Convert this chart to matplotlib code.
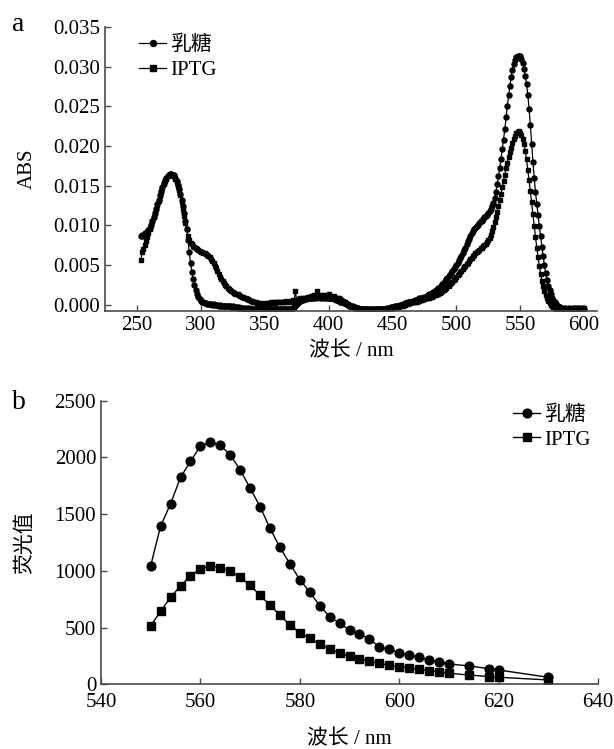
import matplotlib
matplotlib.use('Agg')
import matplotlib.pyplot as plt
from matplotlib.ticker import FormatStrFormatter

plt.rcParams['font.family'] = ['Liberation Serif', 'Noto Sans CJK SC']
plt.rcParams['axes.unicode_minus'] = False

# Panel a: absorbance spectra, 1 nm steps from 253 to 600 nm
abs_wl = list(range(253, 601))
abs_lactose = [
    0.0087, 0.0088, 0.0086, 0.0090, 0.0089, 0.0092, 0.0094, 0.0097, 0.0101, 0.0106,
    0.0111, 0.0116, 0.0121, 0.0127, 0.0132, 0.0138, 0.0143, 0.0148, 0.0153, 0.0157,
    0.0160, 0.0162, 0.0164, 0.0165, 0.0165, 0.0164, 0.0163, 0.0160, 0.0156, 0.0151,
    0.0146, 0.0140, 0.0132, 0.0124, 0.0115, 0.0106, 0.0096, 0.0082, 0.0066, 0.0052,
    0.0041, 0.0032, 0.0025, 0.0019, 0.0014, 0.0010, 0.0007, 0.0005, 0.0004, 0.0003,
    0.0002, 0.0002, 0.0001, 0.0001, 0.0001, 0.0001, 0.0000, 0.0001, 0.0000, 0.0000,
    0.0000, -0.0001, 0.0000, -0.0001, -0.0001, -0.0001, -0.0002, -0.0001, -0.0002, -0.0002,
    -0.0002, -0.0003, -0.0002, -0.0003, -0.0003, -0.0003, -0.0004, -0.0003, -0.0004, -0.0004,
    -0.0004, -0.0005, -0.0004, -0.0005, -0.0005, -0.0004, -0.0005, -0.0006, -0.0005, -0.0005,
    -0.0006, -0.0005, -0.0006, -0.0006, -0.0005, -0.0006, -0.0006, -0.0006, -0.0005, -0.0006,
    -0.0006, -0.0005, -0.0006, -0.0005, -0.0006, -0.0006, -0.0005, -0.0006, -0.0005, -0.0006,
    -0.0005, -0.0006, -0.0005, -0.0006, -0.0006, -0.0005, -0.0006, -0.0005, -0.0006, -0.0004,
    -0.0003, -0.0001, 0.0001, 0.0003, 0.0004, 0.0005, 0.0006, 0.0006, 0.0007, 0.0007,
    0.0008, 0.0008, 0.0009, 0.0008, 0.0009, 0.0009, 0.0010, 0.0009, 0.0010, 0.0010,
    0.0009, 0.0010, 0.0010, 0.0009, 0.0010, 0.0009, 0.0009, 0.0008, 0.0009, 0.0008,
    0.0008, 0.0007, 0.0007, 0.0006, 0.0006, 0.0005, 0.0004, 0.0004, 0.0003, 0.0002,
    0.0002, 0.0001, 0.0000, -0.0001, -0.0001, -0.0002, -0.0003, -0.0003, -0.0004, -0.0004,
    -0.0004, -0.0005, -0.0005, -0.0005, -0.0006, -0.0006, -0.0006, -0.0006, -0.0007, -0.0006,
    -0.0006, -0.0007, -0.0006, -0.0006, -0.0007, -0.0006, -0.0006, -0.0006, -0.0005, -0.0006,
    -0.0005, -0.0005, -0.0005, -0.0004, -0.0004, -0.0004, -0.0003, -0.0003, -0.0003, -0.0002,
    -0.0002, -0.0001, -0.0001, 0.0000, 0.0000, 0.0001, 0.0001, 0.0002, 0.0002, 0.0003,
    0.0003, 0.0004, 0.0004, 0.0005, 0.0005, 0.0006, 0.0006, 0.0007, 0.0008, 0.0008,
    0.0009, 0.0009, 0.0010, 0.0010, 0.0011, 0.0012, 0.0013, 0.0014, 0.0015, 0.0016,
    0.0017, 0.0018, 0.0019, 0.0021, 0.0022, 0.0024, 0.0026, 0.0028, 0.0030, 0.0032,
    0.0034, 0.0036, 0.0038, 0.0040, 0.0043, 0.0045, 0.0048, 0.0050, 0.0053, 0.0056,
    0.0059, 0.0062, 0.0065, 0.0069, 0.0072, 0.0076, 0.0080, 0.0083, 0.0086, 0.0090,
    0.0093, 0.0095, 0.0097, 0.0099, 0.0101, 0.0103, 0.0105, 0.0106, 0.0108, 0.0110,
    0.0112, 0.0113, 0.0116, 0.0118, 0.0121, 0.0124, 0.0128, 0.0134, 0.0142, 0.0152,
    0.0162, 0.0172, 0.0184, 0.0196, 0.0208, 0.0221, 0.0236, 0.0251, 0.0264, 0.0276,
    0.0287, 0.0296, 0.0303, 0.0308, 0.0312, 0.0314, 0.0314, 0.0313, 0.0310, 0.0305,
    0.0297, 0.0288, 0.0278, 0.0264, 0.0247, 0.0226, 0.0202, 0.0180, 0.0160, 0.0142,
    0.0127, 0.0113, 0.0099, 0.0086, 0.0073, 0.0061, 0.0050, 0.0040, 0.0031, 0.0024,
    0.0018, 0.0013, 0.0009, 0.0006, 0.0003, 0.0001, -0.0001, -0.0002, -0.0003, -0.0004,
    -0.0004, -0.0005, -0.0004, -0.0005, -0.0005, -0.0004, -0.0005, -0.0005, -0.0004, -0.0005,
    -0.0005, -0.0004, -0.0005, -0.0004, -0.0005, -0.0005, -0.0004, -0.0005,
]
abs_iptg = [
    0.0056, 0.0066, 0.0070, 0.0075, 0.0080, 0.0085, 0.0090, 0.0095, 0.0100, 0.0105,
    0.0110, 0.0115, 0.0120, 0.0126, 0.0131, 0.0137, 0.0142, 0.0147, 0.0152, 0.0156,
    0.0159, 0.0162, 0.0163, 0.0164, 0.0164, 0.0163, 0.0162, 0.0159, 0.0155, 0.0150,
    0.0145, 0.0138, 0.0130, 0.0121, 0.0112, 0.0103, 0.0095, 0.0087, 0.0081, 0.0078,
    0.0076, 0.0074, 0.0073, 0.0071, 0.0070, 0.0069, 0.0068, 0.0067, 0.0066, 0.0065,
    0.0065, 0.0064, 0.0063, 0.0062, 0.0060, 0.0058, 0.0055, 0.0052, 0.0049, 0.0046,
    0.0042, 0.0039, 0.0035, 0.0032, 0.0030, 0.0027, 0.0025, 0.0023, 0.0021, 0.0020,
    0.0018, 0.0017, 0.0016, 0.0015, 0.0014, 0.0013, 0.0013, 0.0012, 0.0011, 0.0010,
    0.0010, 0.0009, 0.0008, 0.0007, 0.0007, 0.0006, 0.0005, 0.0005, 0.0004, 0.0003,
    0.0003, 0.0002, 0.0002, 0.0001, 0.0002, 0.0001, 0.0001, 0.0002, 0.0001, 0.0002,
    0.0001, 0.0002, 0.0003, 0.0002, 0.0003, 0.0002, 0.0003, 0.0004, 0.0003, 0.0004,
    0.0003, 0.0004, 0.0003, 0.0004, 0.0005, 0.0004, 0.0005, 0.0004, 0.0005, 0.0006,
    0.0005, 0.0017, 0.0006, 0.0007, 0.0006, 0.0008, 0.0007, 0.0008, 0.0009, 0.0008,
    0.0009, 0.0010, 0.0009, 0.0011, 0.0010, 0.0011, 0.0012, 0.0011, 0.0017, 0.0012,
    0.0011, 0.0012, 0.0011, 0.0012, 0.0011, 0.0012, 0.0011, 0.0013, 0.0011, 0.0010,
    0.0010, 0.0011, 0.0009, 0.0009, 0.0008, 0.0008, 0.0007, 0.0006, 0.0005, 0.0004,
    0.0003, 0.0002, 0.0001, 0.0000, -0.0001, -0.0002, -0.0002, -0.0003, -0.0003, -0.0004,
    -0.0004, -0.0005, -0.0005, -0.0005, -0.0006, -0.0006, -0.0006, -0.0007, -0.0006, -0.0007,
    -0.0007, -0.0006, -0.0007, -0.0007, -0.0006, -0.0007, -0.0006, -0.0006, -0.0006, -0.0006,
    -0.0006, -0.0005, -0.0006, -0.0005, -0.0005, -0.0005, -0.0004, -0.0004, -0.0004, -0.0003,
    -0.0003, -0.0003, -0.0002, -0.0002, -0.0001, -0.0001, 0.0000, 0.0000, 0.0001, 0.0001,
    0.0002, 0.0002, 0.0003, 0.0003, 0.0004, 0.0004, 0.0004, 0.0005, 0.0005, 0.0006,
    0.0006, 0.0007, 0.0007, 0.0008, 0.0008, 0.0009, 0.0009, 0.0010, 0.0010, 0.0011,
    0.0012, 0.0012, 0.0013, 0.0014, 0.0015, 0.0016, 0.0017, 0.0019, 0.0020, 0.0021,
    0.0023, 0.0024, 0.0026, 0.0027, 0.0029, 0.0031, 0.0033, 0.0035, 0.0037, 0.0039,
    0.0041, 0.0043, 0.0045, 0.0047, 0.0049, 0.0051, 0.0053, 0.0055, 0.0057, 0.0059,
    0.0061, 0.0063, 0.0065, 0.0066, 0.0068, 0.0069, 0.0071, 0.0072, 0.0074, 0.0075,
    0.0077, 0.0079, 0.0081, 0.0084, 0.0088, 0.0093, 0.0098, 0.0104, 0.0110, 0.0117,
    0.0124, 0.0132, 0.0140, 0.0148, 0.0156, 0.0164, 0.0172, 0.0179, 0.0186, 0.0192,
    0.0198, 0.0204, 0.0209, 0.0213, 0.0216, 0.0218, 0.0219, 0.0217, 0.0214, 0.0209,
    0.0203, 0.0194, 0.0183, 0.0170, 0.0157, 0.0143, 0.0129, 0.0114, 0.0099, 0.0085,
    0.0072, 0.0060, 0.0049, 0.0039, 0.0030, 0.0023, 0.0017, 0.0012, 0.0008, 0.0005,
    0.0002, 0.0000, -0.0002, -0.0003, -0.0004, -0.0005, -0.0004, -0.0005, -0.0005, -0.0006,
    -0.0005, -0.0005, -0.0006, -0.0005, -0.0004, -0.0005, -0.0005, -0.0006, -0.0005, -0.0004,
    -0.0005, -0.0004, -0.0005, -0.0005, -0.0004, -0.0005, -0.0005, -0.0004,
]

# Panel b: fluorescence
fl_wl = [550, 552, 554, 556, 558, 560, 562, 564, 566, 568, 570, 572, 574, 576, 578,
         580, 582, 584, 586, 588, 590, 592, 594, 596, 598, 600, 602, 604, 606, 608,
         610, 614, 618, 620, 630]
fl_lactose = [1046, 1395, 1592, 1824, 1965, 2100, 2133, 2106, 2024, 1889, 1730, 1566,
              1375, 1207, 1063, 922, 814, 693, 596, 538, 479, 444, 402, 326, 308, 279,
              256, 238, 214, 197, 179, 162, 138, 126, 62]
fl_iptg = [517, 643, 767, 867, 955, 1019, 1043, 1028, 999, 943, 875, 784, 699, 611,
           523, 455, 405, 353, 314, 273, 247, 226, 206, 185, 167, 156, 144, 132, 120,
           112, 97, 82, 68, 62, 38]

FS = 15
spine_c = '#4a4a4a'

fig = plt.figure(figsize=(6.14, 7.49), dpi=100)
ax1 = fig.add_axes([0.171, 0.585, 0.801, 0.379])
ax2 = fig.add_axes([0.1645, 0.0864, 0.8095, 0.3786])

for ax in (ax1, ax2):
    ax.spines['top'].set_visible(False)
    ax.spines['right'].set_visible(False)
    for s in ('left', 'bottom'):
        ax.spines[s].set_color(spine_c)
        ax.spines[s].set_linewidth(1.2)
    ax.tick_params(direction='in', length=4, width=1, colors=spine_c,
                   labelcolor='black', labelsize=FS)

# panel a
ax1.plot(abs_wl, abs_lactose, color='black', lw=0.9, marker='o', ms=3.6, label='乳糖')
ax1.plot(abs_wl, abs_iptg, color='black', lw=0.9, marker='s', ms=3.1, label='IPTG')
ax1.set_xlim(225, 610)
ax1.set_ylim(-0.00077, 0.035)
ax1.set_xticks([250, 300, 350, 400, 450, 500, 550, 600])
ax1.set_yticks([0.0, 0.005, 0.010, 0.015, 0.020, 0.025, 0.030, 0.035])
ax1.yaxis.set_major_formatter(FormatStrFormatter('%.3f'))
ax1.set_xlabel('波长 / nm', fontsize=FS, labelpad=5)
ax1.set_ylabel('ABS', fontsize=FS, labelpad=12)
ax1.legend(loc='upper left', bbox_to_anchor=(0.04, 1.02), frameon=False, fontsize=FS,
           handlelength=1.3, handletextpad=0.2, labelspacing=0.25, borderpad=0.2,
           markerscale=1.2)
fig.text(0.020, 0.967, 'a', fontsize=20, va='center')

# panel b
ax2.plot(fl_wl, fl_lactose, color='black', lw=1, marker='o', ms=6.3, label='乳糖')
ax2.plot(fl_wl, fl_iptg, color='black', lw=1, marker='s', ms=5.4, label='IPTG')
ax2.set_xlim(540, 640)
ax2.set_ylim(0, 2500)
ax2.set_xticks([540, 560, 580, 600, 620, 640])
ax2.set_yticks([0, 500, 1000, 1500, 2000, 2500])
ax2.tick_params(axis='x', pad=6)
ax2.set_xlabel('波长 / nm', fontsize=FS, labelpad=13)
ax2.set_ylabel('荧光值', fontsize=FS, labelpad=14)
ax2.legend(loc='upper right', bbox_to_anchor=(1.015, 1.035), frameon=False, fontsize=FS,
           handlelength=1.3, handletextpad=0.2, labelspacing=0.25, borderpad=0.2)
fig.text(0.020, 0.463, 'b', fontsize=20, va='center')

fig.savefig('out.png', dpi=100)
